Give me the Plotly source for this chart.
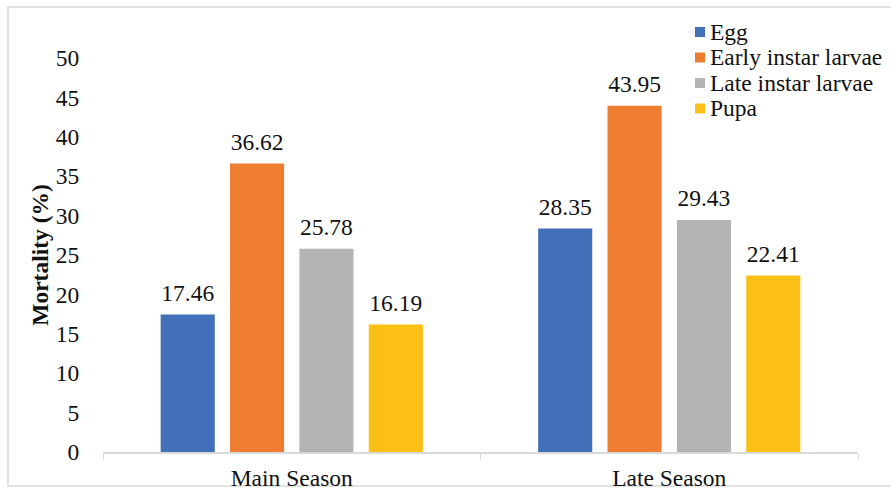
import plotly.graph_objects as go

categories = ["Main Season", "Late Season"]
series_names = ["Egg", "Early instar larvae", "Late instar larvae", "Pupa"]
egg = [17.46, 28.35]
early_larvae = [36.62, 43.95]
late_larvae = [25.78, 29.43]
pupa = [16.19, 22.41]
colors = ["#4170B8", "#EE7D31", "#B4B4B4", "#FBBF16"]
y_ticks = list(range(0, 51, 5))

FONT = "Liberation Serif"
FS = 23.5
W, H = 891, 490
L, R, T, B = 103, 33, 58, 38
pw, ph = W - L - R, H - T - B
GAP = 0.265


def px_x(px):
    return (px - L) / pw


def px_y(py):
    return (H - B - py) / ph


fig = go.Figure()
all_vals = [egg, early_larvae, late_larvae, pupa]
for name, vals, c in zip(series_names, all_vals, colors):
    fig.add_trace(go.Bar(
        x=categories, y=vals, name=name, marker=dict(color=c, line=dict(width=0)),
        showlegend=False, hoverinfo="x+y+name",
    ))
# value labels, grouped like the bars
for name, vals in zip(series_names, all_vals):
    fig.add_trace(go.Scatter(
        x=categories, y=vals, name=name, mode="markers+text",
        marker=dict(size=11, color="rgba(0,0,0,0)"),
        text=[f"{v:.2f}" for v in vals], textposition="top center",
        textfont=dict(family=FONT, size=FS, color="#111"),
        cliponaxis=False, showlegend=False, hoverinfo="skip",
    ))

# figure border
fig.add_shape(type="rect", xref="paper", yref="paper",
              x0=px_x(8), x1=px_x(W + 5), y0=px_y(486), y1=px_y(7),
              line=dict(color="#D9D9D9", width=1.5), layer="below")

# legend (compact, Excel-like spacing)
leg_x, leg_y0, leg_dy, sw = 695, 32, 25.5, 10
for i, (name, c) in enumerate(zip(series_names, colors)):
    cy = leg_y0 + i * leg_dy
    fig.add_shape(type="rect", xref="paper", yref="paper",
                  x0=px_x(leg_x), x1=px_x(leg_x + sw),
                  y0=px_y(cy + sw / 2), y1=px_y(cy - sw / 2),
                  fillcolor=c, line=dict(width=0))
    fig.add_annotation(xref="paper", yref="paper", x=px_x(leg_x + sw + 3), y=px_y(cy),
                       xanchor="left", yanchor="middle", text=name, showarrow=False,
                       font=dict(family=FONT, size=FS, color="#111"))

fig.update_layout(
    width=W, height=H, margin=dict(l=L, r=R, t=T, b=B, autoexpand=False),
    paper_bgcolor="white", plot_bgcolor="white",
    barmode="group", bargap=GAP, bargroupgap=0.22,
    scattermode="group", scattergap=GAP,
    font=dict(family=FONT, size=FS, color="#111"),
    showlegend=False,
    xaxis=dict(showline=True, linecolor="#D9D9D9", linewidth=1.5,
               ticks="outside", tickson="boundaries", ticklen=6, tickcolor="#D9D9D9",
               ticklabelstandoff=4,
               tickfont=dict(family=FONT, size=FS, color="#111"), showgrid=False),
    yaxis=dict(range=[0, 50], tickvals=y_ticks, showgrid=False, showline=False,
               zeroline=False, ticks="outside", ticklen=10, tickcolor="rgba(0,0,0,0)",
               ticklabelstandoff=8,
               tickfont=dict(family=FONT, size=FS, color="#111"),
               title=dict(text="<b>Mortality (%)</b>", standoff=0,
                          font=dict(family=FONT, size=FS, color="#111"))),
)

fig.write_html("out.html")
